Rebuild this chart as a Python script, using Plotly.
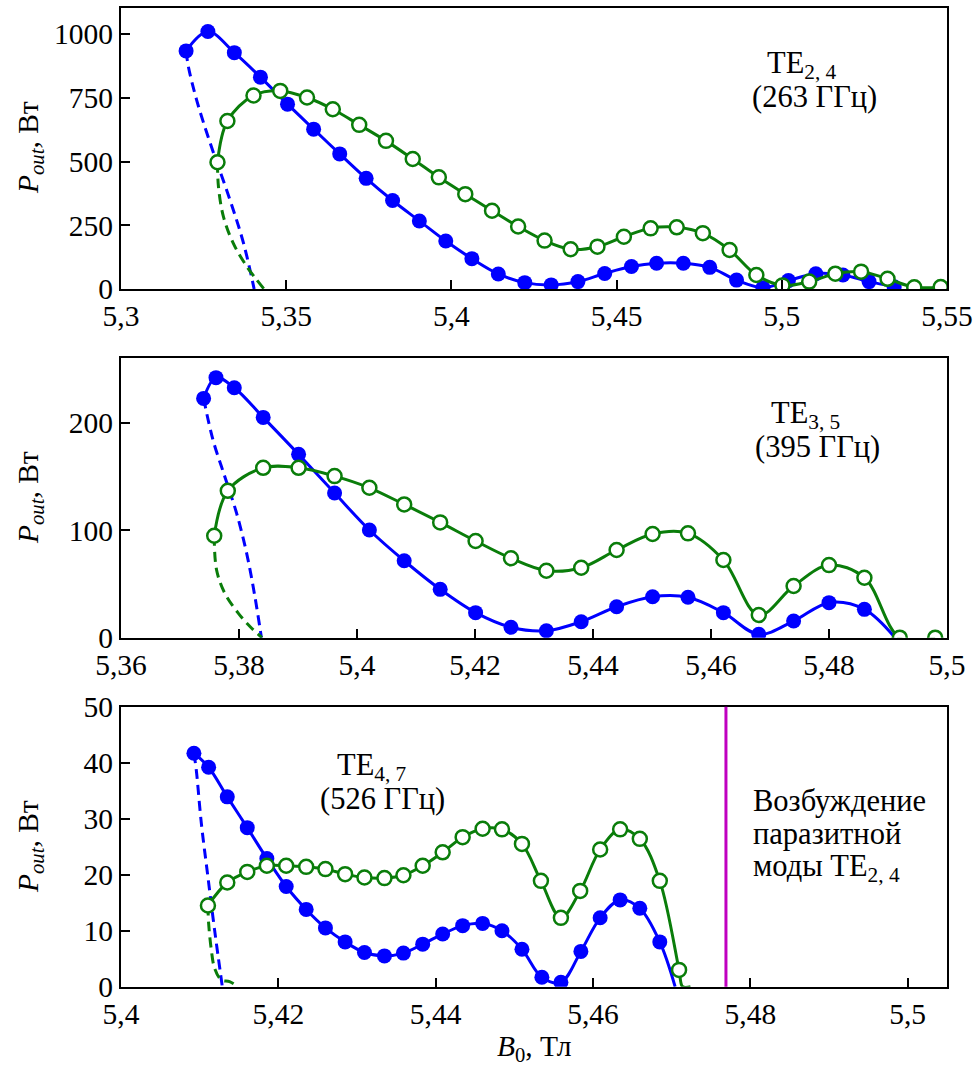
import plotly.graph_objects as go

# ---------------- Panel 1: TE2,4 (263 GHz) ----------------
b1_blue = [5.3197, 5.3263, 5.3343, 5.3422, 5.3504, 5.3583, 5.3662, 5.3742, 5.3822, 5.3903,
           5.3983, 5.4062, 5.4142, 5.4222, 5.4302, 5.4383, 5.4464, 5.4545, 5.4621, 5.4702,
           5.4782, 5.4863, 5.4943, 5.5020, 5.5103, 5.5185, 5.5264, 5.5340]
p1_blue = [934, 1010, 927, 831, 725, 627, 530, 434, 347, 267,
           188, 119, 59, 25, 16, 29, 61, 88, 101, 101,
           85, 35, 5, 33, 60, 55, 29, 9]
b1_green = [5.3292, 5.3322, 5.3401, 5.3482, 5.3563, 5.3641, 5.3721, 5.3802, 5.3883, 5.3962,
            5.4042, 5.4123, 5.4202, 5.4282, 5.4361, 5.4442, 5.4522, 5.4603, 5.4682, 5.4761,
            5.4842, 5.4923, 5.5002, 5.5083, 5.5162, 5.5240, 5.5320, 5.5401, 5.5481]
p1_green = [497, 659, 759, 777, 751, 705, 644, 581, 510, 438,
            372, 307, 245, 190, 156, 166, 205, 238, 242, 219,
            153, 55, 14, 29, 60, 68, 40, 7, 8]
b1_blue_dash = [5.3197, 5.3204, 5.3229, 5.3270, 5.3330, 5.3371, 5.3403]
p1_blue_dash = [934, 872, 741, 572, 349, 179, 0]
b1_green_dash = [5.3292, 5.3295, 5.3310, 5.3340, 5.3381, 5.3433]
p1_green_dash = [497, 401, 284, 179, 88, 0]

# ---------------- Panel 2: TE3,5 (395 GHz) ----------------
b2_blue = [5.3740, 5.3761, 5.3792, 5.3841, 5.3901, 5.3962, 5.4021, 5.4080, 5.4141, 5.4201,
           5.4261, 5.4321, 5.4380, 5.4440, 5.4501, 5.4561, 5.4621, 5.4681, 5.4740, 5.4800,
           5.4860]
p2_blue = [222.7, 242, 232.6, 205, 170.6, 134.6, 100.2, 71.6, 45, 23.3,
           9.7, 6.4, 14.9, 28.8, 38.1, 37.6, 23.3, 3.2, 15.5, 32.6,
           26.4]
b2_blue_end = [5.4912]
p2_blue_end = [0]
b2_green = [5.3758, 5.3781, 5.3841, 5.3901, 5.3962, 5.4021, 5.4080, 5.4141, 5.4201, 5.4261,
            5.4321, 5.4380, 5.4440, 5.4501, 5.4561, 5.4621, 5.4681, 5.4740, 5.4800, 5.4860,
            5.4920, 5.4980]
p2_green = [94.9, 136.7, 158.1, 158.1, 150.4, 139.5, 124, 107.3, 90, 73.9,
            62.3, 65.1, 81.6, 96.5, 97.1, 72.3, 21.1, 48.1, 67.6, 55.8,
            0, 0]
b2_blue_dash = [5.3740, 5.3756, 5.3776, 5.3796, 5.3813, 5.3827, 5.3838]
p2_blue_dash = [222.7, 183.9, 149.8, 115.7, 78.5, 38.1, 0]
b2_green_dash = [5.3758, 5.3762, 5.3776, 5.3799, 5.3819, 5.3839]
p2_green_dash = [94.9, 63, 41.3, 22.7, 10.2, 0]

# ---------------- Panel 3: TE4,7 (526 GHz) ----------------
b3_blue = [5.40927, 5.41114, 5.41351, 5.41605, 5.41854, 5.42100, 5.42354, 5.42599, 5.42849, 5.43095,
           5.43349, 5.43590, 5.43835, 5.44089, 5.44343, 5.44597, 5.44843, 5.45097, 5.45350, 5.45592,
           5.45846, 5.46091, 5.46345, 5.46595, 5.46849]
p3_blue = [41.7, 39.2, 33.9, 28.4, 22.9, 17.9, 13.8, 10.5, 8.0, 6.1,
           5.5, 6.0, 7.6, 9.4, 10.9, 11.3, 10.0, 6.7, 1.7, 0.8,
           6.3, 12.3, 15.5, 14.0, 8.0]
b3_blue_end = [5.47044]
p3_blue_end = [0]
b3_green = [5.41105, 5.41351, 5.41605, 5.41854, 5.42100, 5.42354, 5.42599, 5.42849, 5.43095, 5.43349,
            5.43590, 5.43835, 5.44089, 5.44343, 5.44597, 5.44843, 5.45097, 5.45338, 5.45592, 5.45837,
            5.46091, 5.46345, 5.46595, 5.46849, 5.47094]
p3_green = [14.5, 18.6, 20.5, 21.6, 21.6, 21.4, 21.0, 20.1, 19.5, 19.4,
            19.9, 21.6, 24.0, 26.7, 28.2, 28.1, 25.5, 18.9, 12.3, 17.1,
            24.5, 28.1, 26.4, 18.9, 3.0]
b3_green_end = [5.47140, 5.47240]
p3_green_end = [0, 0]
b3_blue_dash = [5.40927, 5.40957, 5.41021, 5.41105, 5.41190, 5.41288]
p3_blue_dash = [41.7, 38.7, 29.2, 19.6, 10.1, 0]
b3_green_dash = [5.41105, 5.41114, 5.41148, 5.41190, 5.41275, 5.41380, 5.41486]
p3_green_dash = [14.5, 11.3, 6.6, 3.3, 1.2, 0.9, 0]
b3_parasitic = 5.4769

# ---------------- Axes ticks ----------------
x1_ticks = [5.3, 5.35, 5.4, 5.45, 5.5, 5.55]
x1_text = ["5,3", "5,35", "5,4", "5,45", "5,5", "5,55"]
y1_ticks = [0, 250, 500, 750, 1000]
x2_ticks = [5.36, 5.38, 5.4, 5.42, 5.44, 5.46, 5.48, 5.5]
x2_text = ["5,36", "5,38", "5,4", "5,42", "5,44", "5,46", "5,48", "5,5"]
y2_ticks = [0, 100, 200]
x3_ticks = [5.4, 5.42, 5.44, 5.46, 5.48, 5.5]
x3_text = ["5,4", "5,42", "5,44", "5,46", "5,48", "5,5"]
y3_ticks = [0, 10, 20, 30, 40, 50]

BLUE = "#0000ff"
GREEN = "#0a7d0a"
MAG = "#c000c0"
FONT = "Liberation Serif"
FS_TICK = 29.5
FS_TXT = 30.5
W, H = 978, 1066

fig = go.Figure()


def add_panel(n, bb, pb, bb_end, pb_end, bg, pg, bg_end, pg_end, bbd, pbd, bgd, pgd):
    xa = "x" if n == 1 else f"x{n}"
    ya = "y" if n == 1 else f"y{n}"
    common = dict(xaxis=xa, yaxis=ya, showlegend=False, hoverinfo="skip")
    fig.add_trace(go.Scatter(x=bbd, y=pbd, mode="lines",
                             line=dict(color=BLUE, width=3, dash="10px,6px", shape="spline"), **common))
    fig.add_trace(go.Scatter(x=bgd, y=pgd, mode="lines",
                             line=dict(color=GREEN, width=3, dash="10px,6px", shape="spline"), **common))
    fig.add_trace(go.Scatter(x=bb + bb_end, y=pb + pb_end, mode="lines",
                             line=dict(color=BLUE, width=3, shape="spline"), **common))
    fig.add_trace(go.Scatter(x=bb, y=pb, mode="markers",
                             marker=dict(color=BLUE, size=15, line=dict(width=0)), **common))
    fig.add_trace(go.Scatter(x=bg + bg_end, y=pg + pg_end, mode="lines",
                             line=dict(color=GREEN, width=3, shape="spline"), **common))
    fig.add_trace(go.Scatter(x=bg, y=pg, mode="markers",
                             marker=dict(color="white", size=14, line=dict(color=GREEN, width=2.5)),
                             **common))


add_panel(1, b1_blue, p1_blue, [], [], b1_green, p1_green, [], [],
          b1_blue_dash, p1_blue_dash, b1_green_dash, p1_green_dash)
add_panel(2, b2_blue, p2_blue, b2_blue_end, p2_blue_end, b2_green, p2_green, [], [],
          b2_blue_dash, p2_blue_dash, b2_green_dash, p2_green_dash)
add_panel(3, b3_blue, p3_blue, b3_blue_end, p3_blue_end, b3_green, p3_green, b3_green_end, p3_green_end,
          b3_blue_dash, p3_blue_dash, b3_green_dash, p3_green_dash)

fig.add_shape(type="line", xref="x3", yref="y3 domain", x0=b3_parasitic, x1=b3_parasitic,
              y0=0, y1=1, line=dict(color=MAG, width=3))

xdom = [121 / W, 947 / W]


def ydom(top, bottom):
    return [1 - bottom / H, 1 - top / H]


axis_common = dict(showline=True, linecolor="black", linewidth=2, mirror=True, automargin=False,
                   showgrid=False, zeroline=False, ticks="inside", ticklen=9, tickwidth=2,
                   tickcolor="black", tickfont=dict(family=FONT, size=FS_TICK, color="black"))

fig.update_layout(
    width=W, height=H, autosize=False,
    margin=dict(l=0, r=0, t=0, b=0, autoexpand=False),
    paper_bgcolor="white", plot_bgcolor="white",
    font=dict(family=FONT, size=FS_TICK, color="black"),
    xaxis=dict(domain=xdom, anchor="y", range=[5.3, 5.55], tickvals=x1_ticks, ticktext=x1_text, **axis_common),
    yaxis=dict(domain=ydom(8.3, 289), anchor="x", range=[0, 1101], tickvals=y1_ticks, **axis_common),
    xaxis2=dict(domain=xdom, anchor="y2", range=[5.36, 5.5], tickvals=x2_ticks, ticktext=x2_text, **axis_common),
    yaxis2=dict(domain=ydom(358.3, 637.7), anchor="x2", range=[0, 260], tickvals=y2_ticks, **axis_common),
    xaxis3=dict(domain=xdom, anchor="y3", range=[5.4, 5.505], tickvals=x3_ticks, ticktext=x3_text, **axis_common),
    yaxis3=dict(domain=ydom(706.7, 986.7), anchor="x3", range=[0, 50], tickvals=y3_ticks, **axis_common),
)


def ann(text, px, py, xanchor="left", angle=0, size=FS_TXT):
    fig.add_annotation(text=text, xref="paper", yref="paper", x=px / W, y=1 - py / H,
                       xanchor=xanchor, yanchor="middle", showarrow=False, textangle=angle,
                       font=dict(family=FONT, size=size, color="black"))


ytitle = "<i>P</i><sub><i>out</i></sub>, Вт"
ann(ytitle, 30, 148, xanchor="center", angle=-90, size=FS_TICK)
ann(ytitle, 30, 498, xanchor="center", angle=-90, size=FS_TICK)
ann(ytitle, 30, 847, xanchor="center", angle=-90, size=FS_TICK)
ann("<i>B</i><sub>0</sub>, Тл", 534, 1048, xanchor="center", size=FS_TICK)

ann("TE<sub>2, 4</sub>", 765, 65)
ann("(263 ГГц)", 750, 97)
ann("TE<sub>3, 5</sub>", 769, 415)
ann("(395 ГГц)", 753, 447)
ann("TE<sub>4, 7</sub>", 335, 767)
ann("(526 ГГц)", 318, 799)
ann("Возбуждение", 751, 801)
ann("паразитной", 751, 834)
ann("моды TE<sub>2, 4</sub>", 751, 868)

fig.write_html("out.html", config={"displayModeBar": False},
               post_script="document.body.style.margin='0px';document.body.style.overflow='hidden';")
